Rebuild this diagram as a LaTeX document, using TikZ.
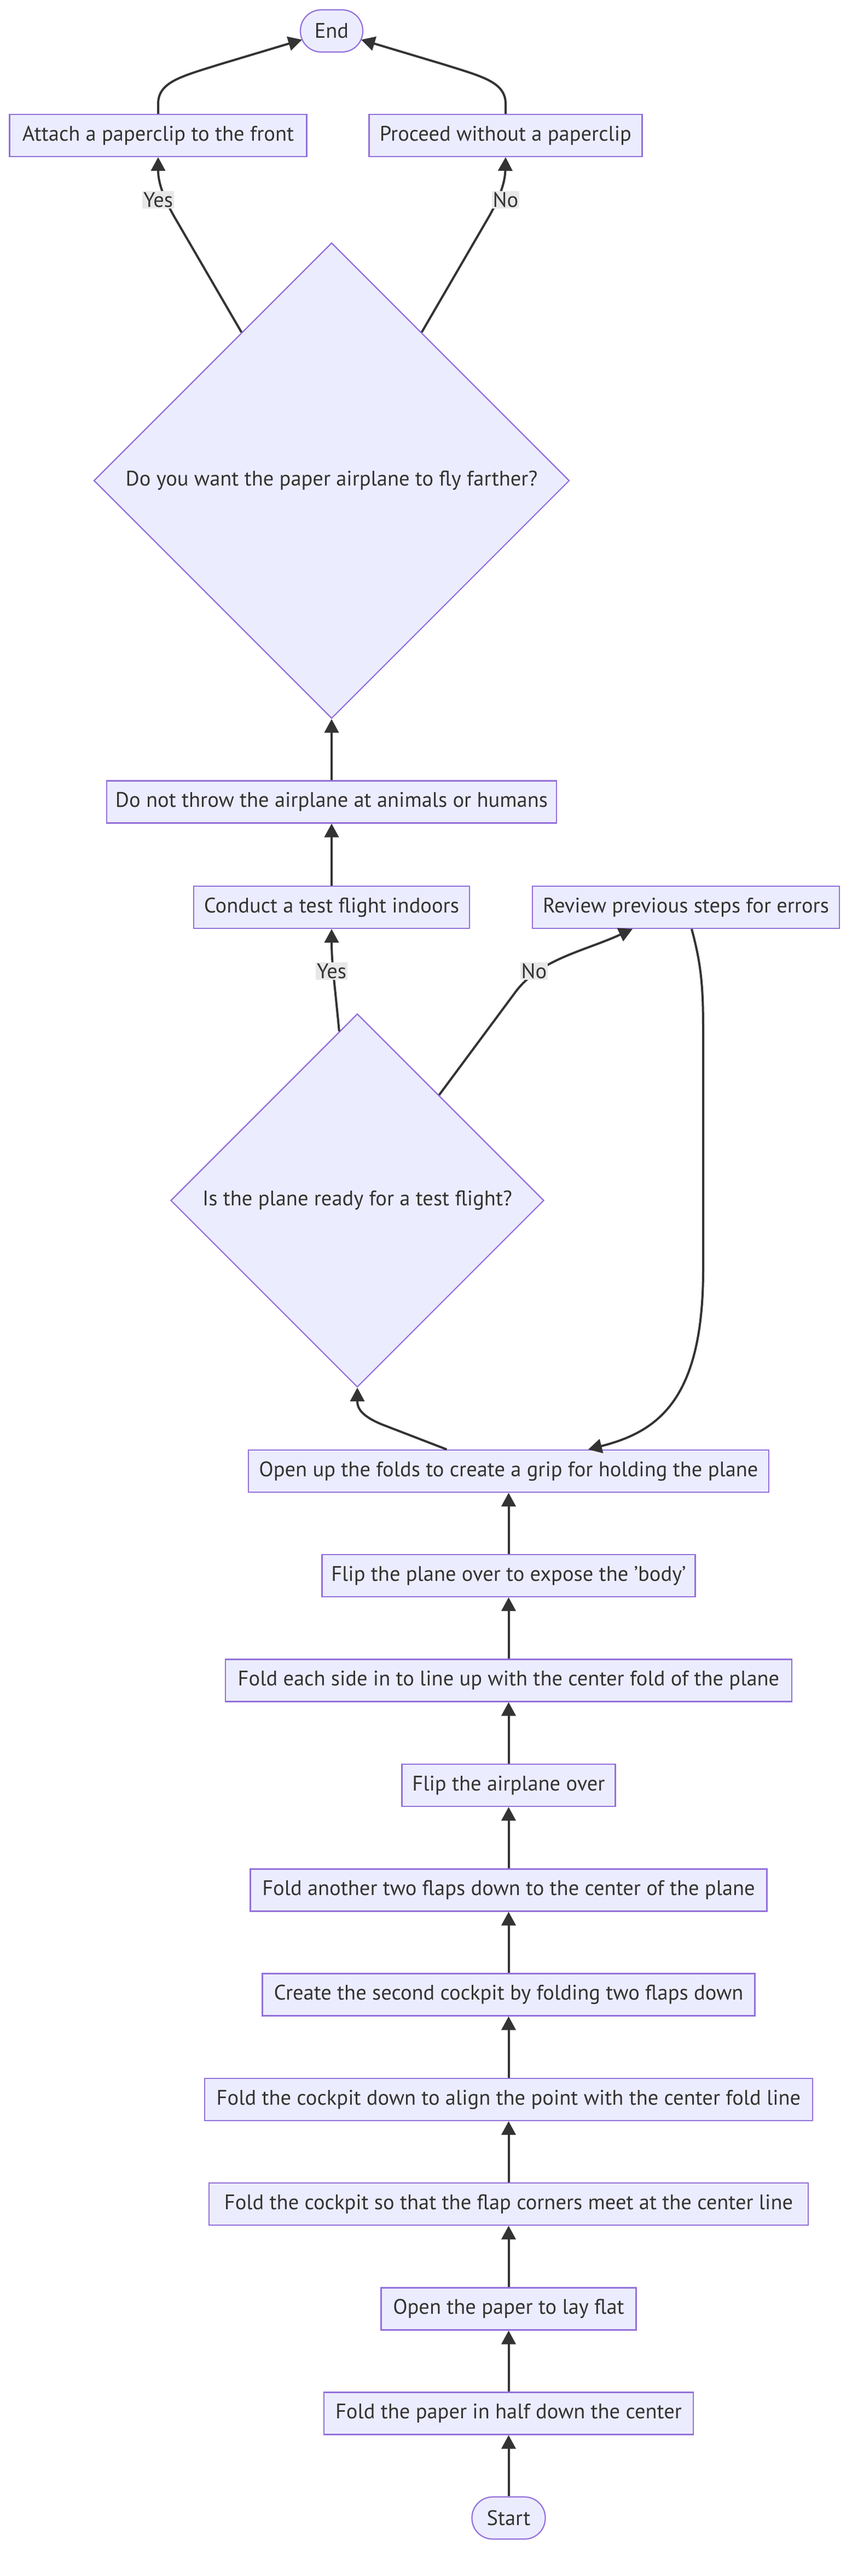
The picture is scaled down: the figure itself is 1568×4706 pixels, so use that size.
\documentclass[tikz,border=0pt]{standalone}
\usepackage{fontspec}
\setmainfont{PT Sans}
\usetikzlibrary{shapes.geometric,arrows.meta,calc}
\definecolor{nodefill}{HTML}{ECECFF}
\definecolor{nodeline}{HTML}{9370DB}
\definecolor{edgecol}{HTML}{333333}
\definecolor{txtcol}{HTML}{333333}
\definecolor{lblbg}{HTML}{E8E8E8}
\tikzset{
  txt/.style={text=txtcol, font=\fontsize{38.5}{46}\selectfont},
  box/.style={txt, draw=nodeline, fill=nodefill, line width=2.2pt, minimum height=77pt, inner sep=0pt},
  term/.style={box, rounded corners=38pt},
  dec/.style={txt, diamond, aspect=1, draw=nodeline, fill=nodefill, line width=2.2pt, inner sep=0pt},
  edge/.style={draw=edgecol, line width=4pt, -{Triangle[length=25pt,width=26pt]}},
  lbl/.style={txt, fill=lblbg, inner sep=2pt}
}
\begin{document}
\begin{tikzpicture}[x=1pt,y=-1pt]
\useasboundingbox (0,0) rectangle (1568,4706);
\fill[white] (0,0) rectangle (1568,4706);
% nodes
\node[term, minimum width=114pt] (end) at (606,56.5) {End};
\node[box, minimum width=543pt] (attach) at (289,247.5) {Attach a paperclip to the front};
\node[box, minimum width=499pt] (proceed) at (924,247.5) {Proceed without a paperclip};
\node[dec, minimum width=869pt, minimum height=869pt] (d1) at (606,878) {Do you want the paper airplane to fly farther?};
\node[box, minimum width=822pt] (nothrow) at (606,1465) {Do not throw the airplane at animals or humans};
\node[box, minimum width=504pt] (conduct) at (606,1657.5) {Conduct a test flight indoors};
\node[box, minimum width=561pt] (review) at (1253.5,1657.5) {Review previous steps for errors};
\node[dec, minimum width=682pt, minimum height=682pt] (d2) at (653,2193) {Is the plane ready for a test flight?};
\node[box, minimum width=951pt] (openup) at (929.5,2687.5) {Open up the folds to create a grip for holding the plane};
\node[box, minimum width=682pt] (flipbody) at (929.5,2878.5) {Flip the plane over to expose the 'body'};
\node[box, minimum width=1035pt] (foldeach) at (929.5,3070) {Fold each side in to line up with the center fold of the plane};
\node[box, minimum width=390pt] (flipover) at (929.5,3261.5) {Flip the airplane over};
\node[box, minimum width=944pt] (foldanother) at (929.5,3453) {Fold another two flaps down to the center of the plane};
\node[box, minimum width=900pt] (create) at (929.5,3644) {Create the second cockpit by folding two flaps down};
\node[box, minimum width=1111pt] (cockpitdown) at (929.5,3835.5) {Fold the cockpit down to align the point with the center fold line};
\node[box, minimum width=1095pt] (cockpitso) at (929.5,4026.5) {Fold the cockpit so that the flap corners meet at the center line};
\node[box, minimum width=466pt] (openpaper) at (929.5,4218) {Open the paper to lay flat};
\node[box, minimum width=675pt] (foldpaper) at (929.5,4409) {Fold the paper in half down the center};
\node[term, minimum width=134pt] (start) at (929.5,4600) {Start};
% straight column
\draw[edge] (start) -- (foldpaper);
\draw[edge] (foldpaper) -- (openpaper);
\draw[edge] (openpaper) -- (cockpitso);
\draw[edge] (cockpitso) -- (cockpitdown);
\draw[edge] (cockpitdown) -- (create);
\draw[edge] (create) -- (foldanother);
\draw[edge] (foldanother) -- (flipover);
\draw[edge] (flipover) -- (foldeach);
\draw[edge] (foldeach) -- (flipbody);
\draw[edge] (flipbody) -- (openup);
% open up -> d2
\draw[edge] ($(openup.north west)+(363.5,0)$) -- (700,2603) .. controls (657,2586) and (653,2570) .. (d2.south);
% d2 -> conduct (Yes)
\draw[edge] ($(d2.north)!0.097!(d2.west)$) .. controls (612,1800) and (606,1760) .. (conduct.south);
% d2 -> review (No)
\draw[edge] ($(d2.north)!0.437!(d2.east)$) -- (940,1815) .. controls (985,1752) and (1067,1738) .. ($(review.south west)+(184,0)$);
% review -> open up
\draw[edge] ($(review.south)+(10.5,0)$) .. controls (1281,1760) and (1285,1800) .. (1285,1880) -- (1285,2320) .. controls (1285,2560) and (1200,2616) .. ($(openup.north west)+(622,0)$);
% conduct -> nothrow -> d1
\draw[edge] (conduct) -- (nothrow);
\draw[edge] (nothrow.north) -- (d1.south);
% d1 -> attach (Yes), d1 -> proceed (No)
\draw[edge] ($(d1.north)!0.378!(d1.west)$) -- (318,395) .. controls (296,356) and (289,330) .. (attach.south);
\draw[edge] ($(d1.north)!0.378!(d1.east)$) -- (894,395) .. controls (916,356) and (923,330) .. (proceed.south);
% attach/proceed -> end
\draw[edge] (attach.north) -- (289,190) .. controls (289,150) and (330,140) .. (400,118) -- ($(end.west)+(4,16)$);
\draw[edge] (proceed.north) -- (924,190) .. controls (924,150) and (882,140) .. (812,118) -- ($(end.east)+(-4,16)$);
% edge labels
\node[lbl] (ly1) at (289,365) {Yes};
\node[lbl] (ln1) at (924,365) {No};
\node[lbl] (ly2) at (606,1774) {Yes};
\node[lbl] (ln2) at (976,1774) {No};
\end{tikzpicture}
\end{document}
